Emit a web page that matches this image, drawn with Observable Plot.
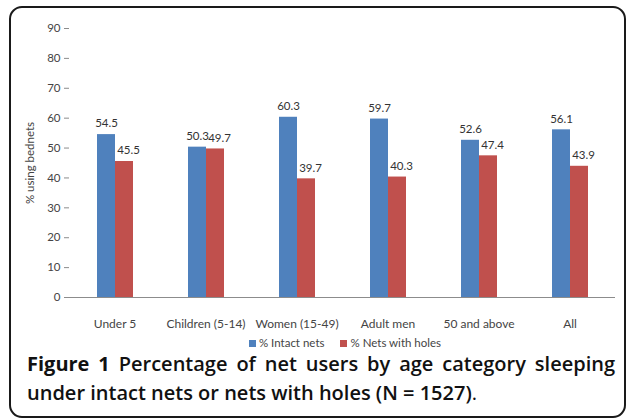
<!DOCTYPE html>
<html>
<head>
<meta charset="utf-8">
<script src="https://cdn.jsdelivr.net/npm/d3@7"></script>
<script src="https://cdn.jsdelivr.net/npm/@observablehq/plot@0.6"></script>
<style>
  html, body { margin: 0; padding: 0; background: #fff; }
  body { width: 627px; height: 420px; position: relative; overflow: hidden; font-family: Lato, "Open Sans", sans-serif; }
  #frame { position: absolute; left: 9px; top: 6px; width: 613px; height: 408px; border: 2px solid #1a1a1a; border-radius: 13px; }
  #chart { position: absolute; left: 0; top: 0; }
  #legend { position: absolute; left: 0; top: 336px; width: 690px; text-align: center; font-size: 11.5px; color: #444; font-family: Lato, sans-serif; }
  #legend span.sw { display: inline-block; width: 7px; height: 7px; margin-right: 3px; vertical-align: 0px; }
  #legend span.item { margin: 0 8px; }
  #caption { position: absolute; left: 27px; top: 349px; width: 588px; font-family: "Open Sans", "Noto Sans", sans-serif; font-size: 20px; line-height: 29px; color: #111; font-weight: 600; }
  #caption .l1 { text-align: justify; text-align-last: justify; white-space: nowrap; }
  #caption b { font-weight: 700; }
</style>
</head>
<body>
<div id="frame"></div>
<div id="chart"></div>
<div id="legend"></div>
<div id="caption"><div class="l1"><b>Figure 1</b> Percentage of net users by age category sleeping</div><div>under intact nets or nets with holes (N = 1527)<span style="font-weight:400">.</span></div></div>
<script>
const categories = ["Under 5", "Children (5-14)", "Women (15-49)", "Adult men", "50 and above", "All"];
const series = ["% Intact nets", "% Nets with holes"];
const intact = [54.5, 50.3, 60.3, 59.7, 52.6, 56.1];
const holes = [45.5, 49.7, 39.7, 40.3, 47.4, 43.9];
const colors = ["#4F81BD", "#C0504D"];
const yTicks = [0, 10, 20, 30, 40, 50, 60, 70, 80, 90];

const data = [];
categories.forEach((c, i) => {
  data.push({category: c, series: series[0], value: intact[i]});
  data.push({category: c, series: series[1], value: holes[i]});
});

const chart = Plot.plot({
  width: 627,
  height: 335,
  marginLeft: 68,
  marginRight: 11,
  marginTop: 28,
  marginBottom: 38,
  style: {fontFamily: "Lato, 'Open Sans', sans-serif", fontSize: "11.5px", color: "#444", background: "transparent"},
  fx: {domain: categories, padding: 0, label: null},
  x: {domain: series, paddingInner: 0, paddingOuter: 1.5, axis: null},
  y: {domain: [0, 90]},
  color: {domain: series, range: colors},
  marks: [
    Plot.barY(data, {fx: "category", x: "series", y: "value", fill: "series"}),
    Plot.text(data.filter(d => d.series === series[0]), {fx: "category", x: "series", y: "value", text: d => d.value.toFixed(1), dy: -11, fontSize: 11.5, fill: "#333"}),
    Plot.text(data.filter(d => d.series === series[1]), {fx: "category", x: "series", y: "value", text: d => d.value.toFixed(1), dy: -11, dx: 4, fontSize: 11.5, fill: "#333"}),
    Plot.ruleY([0], {stroke: "#8c8c8c", strokeWidth: 1}),
    Plot.axisY({ticks: yTicks, tickSize: 5, tickPadding: 4, line: true, stroke: "#8c8c8c", color: "#444",
      label: "% using bednets", labelAnchor: "center", labelArrow: "none", labelOffset: 44, fontSize: 11.5}),
    Plot.axisFx({anchor: "bottom", tickSize: 0, tickPadding: 22, label: null, fontSize: 12, color: "#444"})
  ]
});
document.getElementById("chart").appendChild(chart);

const legend = document.getElementById("legend");
series.forEach((s, i) => {
  const item = document.createElement("span");
  item.className = "item";
  const sw = document.createElement("span");
  sw.className = "sw";
  sw.style.background = colors[i];
  item.appendChild(sw);
  item.appendChild(document.createTextNode(s));
  legend.appendChild(item);
});
</script>
</body>
</html>
